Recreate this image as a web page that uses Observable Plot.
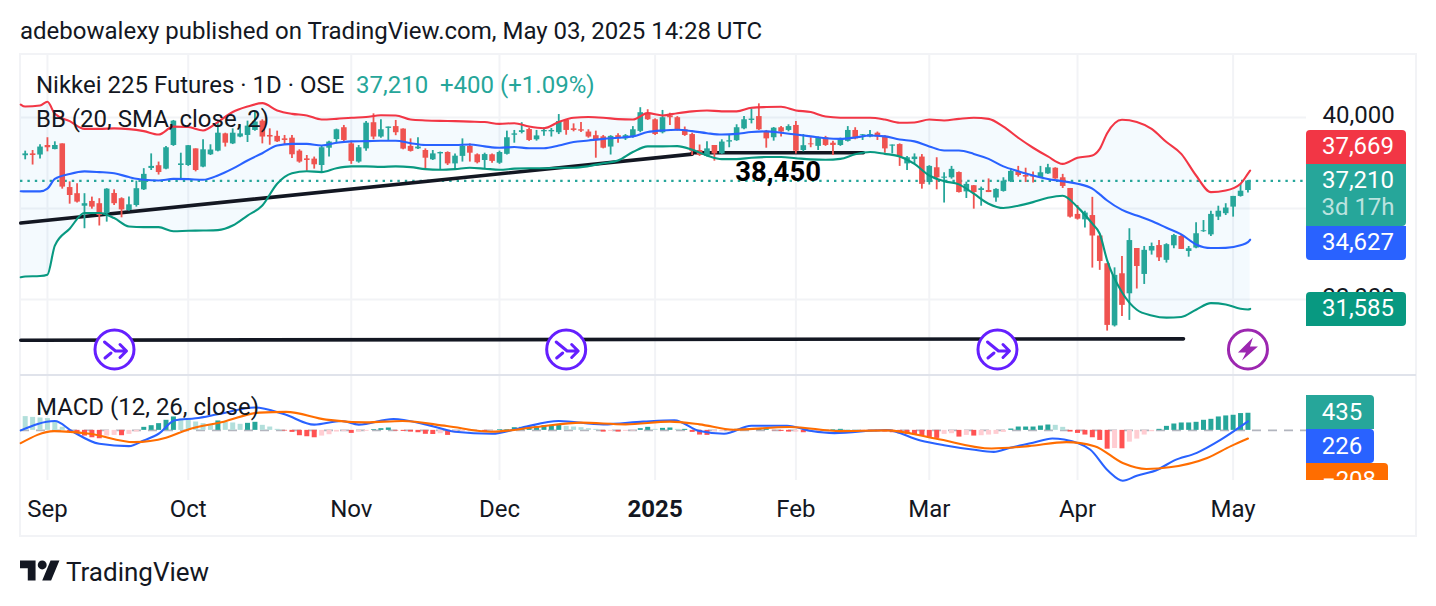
<!DOCTYPE html>
<html>
<head>
<meta charset="utf-8">
<script src="https://cdn.jsdelivr.net/npm/d3@7"></script>
<script src="https://cdn.jsdelivr.net/npm/@observablehq/plot@0.6"></script>
<style>
html,body{margin:0;padding:0;background:#fff;overflow:hidden}
#page{position:relative;width:1436px;height:606px;font-family:Roboto,sans-serif;color:#131722;overflow:hidden}
.abs{position:absolute;white-space:nowrap;line-height:1}
.t{font-size:24px}
.box{position:absolute;box-sizing:border-box}
.badge{position:absolute;color:#fff;font-size:24px;text-align:center;box-sizing:border-box;overflow:hidden}
#pricePlot,#macdPlot{position:absolute;left:0}
#pricePlot svg,#macdPlot svg{display:block;background:transparent;overflow:hidden}
</style>
</head>
<body>
<div id="page"></div>
<script>
// ---- price candles (daily, Sep 2024 - May 2025) ----
const opens = [38320,38400,38350,38770,38590,38840,36920,36650,36100,36310,
36210,35770,36660,36430,35910,36130,36820,37760,37880,37730,
38770,37890,37890,38620,37820,38360,38520,39280,38840,39140,
39210,39430,39840,39210,39170,39060,39090,38520,38180,38170,
37890,38650,39030,39550,38840,38040,38620,39770,39140,39520,
39600,39490,38730,38620,38550,38140,38400,38460,37960,38290,
38730,38360,38110,38360,37990,38380,39220,39340,39470,39020,
39370,39370,39330,39870,39500,39460,39360,39200,39150,38700,
39200,39060,39140,39390,40190,39900,39330,40070,39990,39460,
39250,38550,38290,38770,38400,38920,38980,39500,39870,40040,
39390,39110,39550,39430,39650,38550,38840,38730,39110,38870,
38770,38950,39430,39210,39140,39310,39170,38740,38810,37960,
38150,38260,37140,37790,37330,37350,37580,36730,37000,36790,
36790,36460,36750,37170,37610,37450,37420,37350,37520,37770,
37350,36880,35740,35500,35690,34790,33570,30840,33130,32250,
34240,33100,34130,34370,33720,34360,34770,34110,34260,34980,
34840,35620,35770,36060,36530,36790];
const highs = [38520,38550,38800,39110,38930,38840,37170,37090,36650,36500,
36430,36870,36820,36470,36500,37200,37750,38400,38040,38730,
39870,38430,38770,38620,39020,38800,39870,39310,39500,39680,
39840,40270,39900,39500,39400,39210,39210,38580,38330,38260,
38770,38950,39490,39650,38960,38770,39820,40160,39900,39580,
39870,39500,39060,39110,38620,38550,38480,38490,38400,39060,
38840,38400,38430,38400,38520,39400,39430,39770,39530,39430,
39550,39520,40130,39900,39720,39780,39460,39400,39210,39200,
39280,39250,39600,40430,40340,39940,40310,40190,40040,39580,
39310,38790,38930,38770,39020,39210,39680,40040,40380,40600,
39430,39560,39600,39680,39820,39250,39110,39140,39170,38960,
39090,39600,39550,39250,39430,39360,39200,38790,38840,38290,
38400,38370,37880,38230,37570,37850,37600,37160,37010,36940,
37300,36870,37350,37750,37850,37770,37600,37850,37940,37790,
37500,36880,36130,35880,36490,34790,33570,33390,33890,35110,
34240,34330,34480,34590,34450,34860,34840,34330,35370,35470,
35880,36100,36210,36530,37060,37230];
const lows = [38140,37910,38170,38490,38580,36850,36190,36240,35110,35970,
35230,35400,36130,35590,35880,36060,36790,37670,37470,37700,
38730,37300,37850,37610,37790,38330,38490,38700,38810,39110,
38900,39400,38840,38780,38900,38810,38200,37990,37640,37730,
37600,38260,38840,38870,37940,37990,38520,39020,39090,38990,
39200,38580,38480,38590,37740,38110,37670,37890,37740,38040,
38040,37960,37700,37990,37940,38350,38870,39280,38950,38960,
39170,39140,39250,39220,39370,39340,39090,38210,38620,38350,
38870,38990,39090,39330,39870,39210,39280,39650,39400,39170,
38330,38290,38260,38080,38380,38670,38950,39460,39720,39430,
38650,38960,39140,39370,38400,38490,38670,38550,38730,38330,
38730,38920,39020,38990,39110,38990,38430,38400,37850,37670,
37960,36850,37030,36820,36240,37290,36680,36440,35970,36100,
36700,36270,36720,37140,37380,37140,37120,37320,37500,37280,
36880,35580,35490,35140,33380,33280,30610,30790,31250,31080,
32460,32660,33950,33670,33600,34230,34200,33860,34230,34950,
34770,35470,35690,35620,36500,36680];
const closes = [38400,38330,38700,38670,38770,36940,36570,36280,36210,36060,
35690,36850,36210,35940,36160,36870,37500,37850,37580,38670,
39840,37960,38760,37670,38580,38570,39310,38870,39310,39280,
39620,39800,39140,39140,38930,38990,38360,38040,38110,37920,
38670,38920,39460,38990,38070,38670,39750,39140,39460,39580,
39330,38610,38510,38700,38210,38400,38460,37960,38300,38730,
38430,38010,38370,38070,38460,39110,39280,39420,38990,39190,
39430,39430,39820,39430,39430,39400,39140,39020,38650,39170,
39080,39200,39460,40210,39900,39250,39990,39990,39460,39210,
38510,38330,38620,38400,38920,38980,39550,39900,39930,39460,
39060,39530,39360,39600,38520,38760,38800,39110,38770,38770,
39020,39430,39060,39240,39250,39140,38620,38790,38260,38230,
38260,37060,37850,37350,37380,37720,36700,37060,36700,36870,
36700,36840,37200,37630,37450,37380,37380,37570,37790,37300,
36970,35620,35530,35800,34790,33670,30860,33060,31740,34590,
33450,34160,34330,33830,34410,34810,34200,34230,34890,35020,
35740,35880,36020,36530,36760,37210];

// ---- Bollinger bands ----
const bbBars = [-0.6,0,2,3,4,6,8,10,12,14,16,18,20,22,24,26,28,30,32,34,36,38,40,42,44,46,48,50,52,54,56,58,60,
62,64,66,68,70,72,74,76,78,80,82,84,86,88,90,92,94,96,98,100,102,104,106,108,110,112,114,116,118,120,122,124,
126,128,130,132,134,136,138,140,142,144,145,146,148,150,152,154,156,158,160,162,164,165,165.3];
const bbUpper = [40570,40480,40530,40690,
40160,39840,39500,39500,39520,39490,39400,39250,39600,39580,
39430,39800,40240,40480,40630,40310,40160,40090,39910,39940,
39990,40020,40100,40090,39910,39870,39850,39840,39820,
39800,39720,39750,39600,39530,39800,39990,40020,39990,39930,
39910,40190,40090,40190,40270,40310,40270,40270,40430,40460,
40470,40310,40240,40040,39990,39990,39990,39910,39770,39780,39910,39870,
39940,39990,39940,39600,39110,38670,38290,37960,38230,38330,38620,
39310,39900,39800,39500,38920,38400,37450,36720,36790,37090,37530,37669];
const bbBasis = [36760,36750,36750,36870,
37300,37520,37630,37600,37550,37380,37260,37230,37300,37290,
37260,37450,37750,38110,38430,38770,38840,38840,38770,38890,
38950,38960,38980,38980,38870,38790,38790,38790,38810,
38730,38670,38700,38650,38650,38770,38920,38990,39060,39110,
39170,39360,39430,39460,39400,39310,39250,39280,39360,39390,
39330,39250,39170,39090,39060,39120,39210,39170,39030,38950,38730,38550,
38550,38400,38180,37850,37640,37450,37300,37200,37090,36870,36620,
36350,35940,35690,35450,35150,34860,34420,34260,34270,34380,34520,34627];
const bbLower = [32980,33010,33030,33090,
34370,35110,35800,35800,35580,35210,35180,35180,35000,35020,
35030,35050,35250,35690,36130,37090,37550,37640,37600,37770,
37850,37850,37830,37850,37820,37730,37700,37730,37790,
37750,37700,37750,37770,37770,37790,37790,37860,37990,38110,
38480,38730,38730,38740,38580,38330,38170,38170,38230,38260,
38260,38210,38160,38140,38180,38380,38480,38400,38290,37960,37450,37200,
37060,36650,36210,36020,36120,36280,36470,36560,36060,35330,34890,
33720,32320,31550,31300,31200,31230,31550,31840,31780,31590,31560,31585];

// ---- hand-drawn lines ----
const lastPrice = 37210;
const trendBars = [-0.6,90], trendVals = [35360,38390];
const levelBars = [90,113.1], levelVals = [38450,38450];
const supportBars = [-0.6,156.3], supportVals = [30210,30270];
const levelLabel = "38,450", levelLabelBar = 101.6, levelLabelY = 37580;
const eventBars = [12.05,73,131.2], boltBars = [165], iconY = 29800;

// ---- MACD ----
const hist = [350,330,315,300,200,80,
-43,-102,-145,-188,-213,-145,-128,-136,-102,-43,
77,119,171,256,341,281,273,213,171,128,
239,205,188,154,179,205,128,85,26,-17,
-51,-136,-162,-188,-145,-111,-43,-26,-77,-43,
-26,17,43,60,-17,-26,-43,-60,-100,-105,
-85,-128,-68,-34,-26,-26,-34,-17,17,17,
68,77,85,94,119,128,136,102,85,68,
43,26,-43,-26,-43,-26,-17,43,77,26,
51,60,26,26,-51,-119,-128,-34,-34,-26,
26,34,17,26,26,-9,-26,-43,-43,-60,
-34,-26,-9,17,26,17,9,-17,-26,-34,
-43,-60,-85,-102,-119,-136,-179,-205,-102,-85,
-171,-128,-145,-136,-119,-102,-51,34,85,85,
85,111,136,128,77,-43,-77,-119,-188,-256,
-478,-461,-469,-299,-222,-119,-34,26,102,162,
188,188,205,256,281,341,367,384,427,435];
const macdBars = [-0.6,4,6.3,10,14,16,18,20.2,23,26,31,35,39,42.7,45,49.7,54,58,63,67,72,78,83.4,87.6,91,
94.3,98,102.8,106.1,109.2,116.2,120.8,124,127.8,130.7,132.9,136,138.6,140.2,143.7,146.2,148.1,150,152.8,155,158.1,161.4,165];
const macdVals = [0,238,-18,-342,-401,-256,-86,255,307,409,580,409,145,238,145,290,153,-35,-86,68,238,153,221,255,-18,
-86,119,119,-18,-69,8,-256,-376,-487,-546,-444,-316,-205,-231,-487,-1041,-1280,-1152,-999,-768,-572,-231,226];
const signalBars = [-0.6,3.9,8.7,14.7,19,22,26.8,31.6,35.2,40.6,46,50.9,56.9,62.9,69,75,81,87,91,
95.6,103.2,110,116.2,122.8,130.4,135.4,140.5,144.3,148.1,151.3,154.4,159.5,162.7,165];
const signalVals = [-325,-18,-86,-299,-188,25,221,452,469,272,204,238,110,-35,85,196,153,221,153,
16,85,-18,0,-205,-461,-401,-299,-401,-828,-981,-939,-700,-401,-208];

// ---- axes ----
const monthBars = [3,22,44,64,104,122,142,163];
const monthNames = ["Sep","Oct","Nov","Dec","Feb","Mar","Apr","May"];
const yearBars = [85], yearNames = ["2025"];
const priceTicks = [32000,36000,40000];

// ---- colours ----
const UP="#26a69a", DOWN="#ef5350", GRID="#f2f3f6", INK="#131722";
const RED="#f23645", BLUE="#2962ff", GREEN="#089981", ORANGE="#ff6d00", DRAW="#131722";

const candles = opens.map((o,i)=>({i,o,h:highs[i],l:lows[i],c:closes[i]}));
const bands = bbBars.map((x,i)=>({x,u:bbUpper[i],b:bbBasis[i],l:bbLower[i]}));
const histRows = hist.map((v,i)=>{
  const p = i? hist[i-1] : Infinity;
  return {i,v,col: v>=0 ? (v>=p? "#26a69a":"#b2dfdb") : (v<p? "#ff5252":"#ffcdd2")};
});
const xScale = {type:"linear",domain:[-0.634,172.9],range:[20,1306]};
const pair=(a,b)=>a.map((x,i)=>({x,y:b[i]}));

function icon(color,inner){
  const s=`<svg xmlns="http://www.w3.org/2000/svg" viewBox="-22 -22 44 44" width="44" height="44"><circle r="19.5" fill="#fff" stroke="${color}" stroke-width="3"/>${inner}</svg>`;
  return "data:image/svg+xml,"+encodeURIComponent(s);
}
const mergeIcon = icon("#651fff",`<path d="M-10 -7.5 L1 1.5 L11.5 1.5 M5.5 -5 L12 1.5 L5.5 8 M-9.5 8.5 L-3.5 3.5" fill="none" stroke="#651fff" stroke-width="3" stroke-linecap="round" stroke-linejoin="round"/>`);
const boltIcon = icon("#9c27b0",`<path d="M5 -12 L-10 3 L-2 3 L-6 11 L10 -3 L2 -3 Z" fill="#9c27b0"/>`);

const page = document.getElementById("page");

const pricePlot = Plot.plot({
  width:1436,height:320,marginLeft:20,marginRight:130,marginTop:0,marginBottom:0,
  x:{...xScale,axis:null},
  y:{domain:[28658,42725],range:[320,0],axis:null},
  style:{fontFamily:"Roboto,sans-serif",background:"transparent",color:INK},
  marks:[
    Plot.ruleX([...monthBars,...yearBars],{stroke:GRID,strokeWidth:2}),
    Plot.ruleY(priceTicks,{stroke:GRID,strokeWidth:2}),
    Plot.axisY({anchor:"right",ticks:priceTicks,tickFormat:d3.format(","),tickSize:0,tickPadding:16,fontSize:24,dy:-2,label:null,fill:INK}),
    Plot.areaY(bands,{x:"x",y1:"l",y2:"u",fill:"#2196f3",fillOpacity:0.05,curve:"monotone-x"}),
    Plot.ruleY([lastPrice],{stroke:UP,strokeWidth:2.2,strokeDasharray:"2.4 5"}),
    Plot.line(pair(trendBars,trendVals),{x:"x",y:"y",stroke:DRAW,strokeWidth:3.6}),
    Plot.line(pair(levelBars,levelVals),{x:"x",y:"y",stroke:DRAW,strokeWidth:3.6}),
    Plot.line(pair(supportBars,supportVals),{x:"x",y:"y",stroke:DRAW,strokeWidth:3.6}),
    Plot.ruleX(candles,{x:"i",y1:"l",y2:"h",stroke:d=>d.c>=d.o?UP:DOWN,strokeWidth:1.8}),
    Plot.ruleX(candles,{x:"i",y1:"o",y2:"c",stroke:d=>d.c>=d.o?UP:DOWN,strokeWidth:5.6}),
    Plot.line(bands,{x:"x",y:"u",stroke:RED,strokeWidth:2.1,curve:"monotone-x"}),
    Plot.line(bands,{x:"x",y:"b",stroke:BLUE,strokeWidth:2.1,curve:"monotone-x"}),
    Plot.line(bands,{x:"x",y:"l",stroke:GREEN,strokeWidth:2.1,curve:"monotone-x"}),
    Plot.text([levelLabel],{x:[levelLabelBar],y:[levelLabelY],text:d=>d,fontSize:27.5,fontWeight:700,fill:"#000"}),
    Plot.image(eventBars,{x:d=>d,y:()=>iconY,src:()=>mergeIcon,width:44,height:44}),
    Plot.image(boltBars,{x:d=>d,y:()=>iconY,src:()=>boltIcon,width:44,height:44})
  ]
});
const priceWrap=document.createElement("div");
priceWrap.id="pricePlot";priceWrap.style.top="55px";priceWrap.appendChild(pricePlot);

const macdPlot = Plot.plot({
  width:1436,height:160,marginLeft:20,marginRight:130,marginTop:0,marginBottom:56,
  x:{...xScale,axis:null},
  y:{domain:[-1274,1369],range:[104,0],axis:null},
  style:{fontFamily:"Roboto,sans-serif",background:"transparent",color:INK},
  marks:[
    Plot.ruleX([...monthBars,...yearBars],{stroke:GRID,strokeWidth:2,y1:-1274,y2:1369}),
    Plot.ruleY([0],{stroke:"#b2b5be",strokeWidth:1.6,strokeDasharray:"9 7"}),
    Plot.ruleX(histRows,{x:"i",y1:0,y2:"v",stroke:"col",strokeWidth:5}),
    Plot.line(pair(macdBars,macdVals),{x:"x",y:"y",stroke:BLUE,strokeWidth:2.1,curve:"monotone-x"}),
    Plot.line(pair(signalBars,signalVals),{x:"x",y:"y",stroke:ORANGE,strokeWidth:2.1,curve:"monotone-x"}),
    Plot.axisX({anchor:"bottom",ticks:monthBars,tickFormat:d=>monthNames[monthBars.indexOf(d)],tickSize:0,tickPadding:19,fontSize:24,label:null,fill:INK}),
    Plot.axisX({anchor:"bottom",ticks:yearBars,tickFormat:d=>yearNames[yearBars.indexOf(d)],tickSize:0,tickPadding:19,fontSize:24,fontWeight:700,label:null,fill:INK})
  ]
});
const macdWrap=document.createElement("div");
macdWrap.id="macdPlot";macdWrap.style.top="376px";macdWrap.appendChild(macdPlot);

function el(html){const t=document.createElement("template");t.innerHTML=html.trim();page.appendChild(t.content.firstChild);}
// frame
el(`<div class="box" style="left:19px;top:53px;width:1398px;height:484px;border:2px solid ${GRID}"></div>`);
page.appendChild(priceWrap);
page.appendChild(macdWrap);
el(`<div class="box" style="left:20px;top:374px;width:1396px;height:2px;background:#e0e3eb"></div>`);
// titles and legends
el(`<div class="abs t" style="left:20px;top:19px">adebowalexy published on TradingView.com, May 03, 2025 14:28 UTC</div>`);
el(`<div class="abs t" style="left:36px;top:73px">Nikkei 225 Futures · 1D · OSE</div>`);
el(`<div class="abs t" style="left:356px;top:73px;color:${UP}">37,210</div>`);
el(`<div class="abs t" style="left:440px;top:73px;color:${UP}">+400 (+1.09%)</div>`);
el(`<div class="abs t" style="left:36px;top:107px">BB (20, SMA, close, 2)</div>`);
el(`<div class="abs t" style="left:36px;top:395px">MACD (12, 26, close)</div>`);
// price badges
const badge=(l,t,w,h,bg,html,r)=>el(`<div class="badge" style="left:${l}px;top:${t}px;width:${w}px;height:${h}px;background:${bg};border-radius:${r||"0 4px 4px 0"}">${html}</div>`);
const line=(text,top,extra)=>`<div class="abs" style="left:4px;right:0;top:${top}px;${extra||""}">${text}</div>`;
badge(1306,130,100,34,RED,line("37,669",4),"4px 4px 0 0");
badge(1306,226,100,34,BLUE,line("34,627",4),"0 0 4px 4px");
badge(1306,164,100,62,UP,line("37,210",4)+line("3d 17h",31,"color:rgba(255,255,255,.7)"),"0 0 4px 0");
badge(1306,292,100,34,GREEN,line("31,585",4),"4px 4px 4px 0");
badge(1306,395,68,34,UP,line("435",5),"0 4px 0 0");
badge(1306,429,68,34,BLUE,line("226",5),"0 4px 4px 0");
badge(1306,463,82,17,ORANGE,line("−208",5),"0 4px 0 0");
// footer logo
el(`<svg class="abs" style="left:20px;top:560px" width="40" height="21" viewBox="0 4 36 18"><path d="M14 22H7V11H0V4h14v18zM28 22h-8l7.5-18h8L28 22z" fill="${INK}"/><circle cx="20" cy="8" r="4" fill="${INK}"/></svg>`);
el(`<div class="abs" style="left:66px;top:559px;font-size:26px">TradingView</div>`);
</script>
</body>
</html>
